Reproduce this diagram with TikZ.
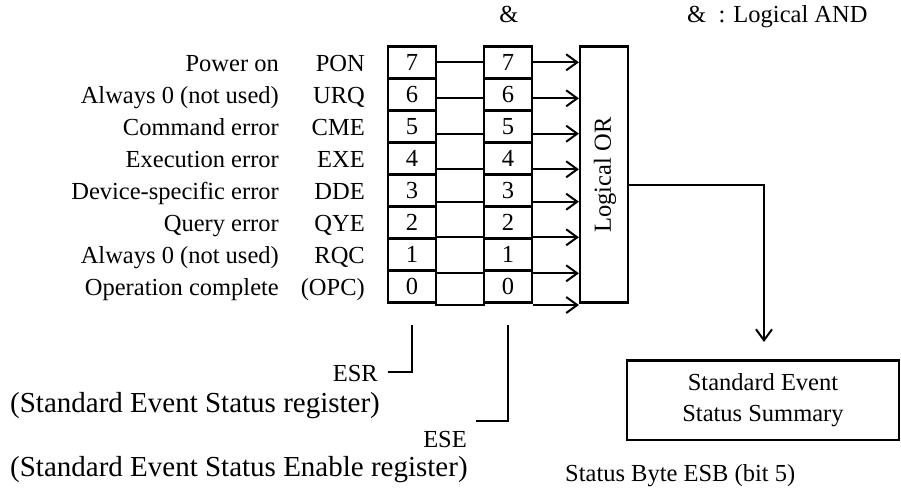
\documentclass[tikz,border=0pt]{standalone}
\usepackage{fontspec}
\setmainfont{Liberation Serif}
\usetikzlibrary{arrows.meta}
\begin{document}
\begin{tikzpicture}[x=1pt,y=-1pt,
  every node/.style={font=\fontsize{24.5}{31}\selectfont, inner sep=0pt},
  bigtxt/.style={font=\fontsize{29}{34}\selectfont},
  cell/.style={draw, line width=2.2pt, minimum width=48pt, minimum height=32pt},
  wire/.style={line width=2pt},
  arr/.style={line width=2pt, -{Straight Barb[length=11pt,width=16pt,line width=2pt]}},
]
\useasboundingbox (0,0) rectangle (901,490);

% title texts
\node[anchor=base] (amp) at (509,22) {\&};
\node[anchor=base west] (legend) at (687,22) {\&\ \ : Logical AND};

% registers and labels
\foreach \b/\d/\m [count=\i from 0] in {7/Power on/PON, 6/Always 0 (not used)/URQ, 5/Command error/CME, 4/Execution error/EXE, 3/Device-specific error/DDE, 2/Query error/QYE, 1/Always 0 (not used)/RQC, 0/Operation complete/{(OPC)}}{
  \node[cell] (r\b) at (412,{62.5+32*\i}) {\b};
  \node[cell] (e\b) at (508,{62.5+32*\i}) {\b};
  \node[anchor=base east] (d\b) at (279,{71+32*\i}) {\d};
  \node[anchor=base east] (m\b) at (365,{71+32*\i}) {\m};
}

% logical OR block
\node[draw, line width=2.2pt, minimum width=48pt, minimum height=256pt] (or) at (604,174.5) {};
\node[rotate=90] (orlbl) at (605,175) {Logical OR};

% middle AND section
\node[draw, line width=2.2pt, minimum width=48pt, minimum height=31.7pt] (mb) at (460,289.2) {};
\foreach \y [count=\k from 0] in {62.3,98.3,133.7,169.3,201.7,237.3,273.3,305}{
  \coordinate (a\k) at (0,\y);
}
\foreach \b/\k in {7/0,6/1,5/2,4/3,3/4,2/5}{
  \draw[wire] (r\b.east |- a\k) -- (e\b.west |- a\k);
}
\foreach \k in {0,...,7}{
  \draw[arr] (e0.east |- a\k) -- (or.west |- a\k);
}

% output to summary
\node[draw, line width=2.2pt, minimum width=272pt, minimum height=79.5pt, align=center] (seb) at (763,400.3) {Standard Event\\Status Summary};
\coordinate (oy) at (0,185);
\coordinate (tip) at (764,342);
\draw[arr] (or.east |- oy) -| (tip);
\node[anchor=base west] (esb) at (565,481) {Status Byte ESB (bit 5)};

% register captions
\node[anchor=base east] (esr) at (378,381) {ESR};
\node[anchor=base west, bigtxt] (esrlong) at (10,412) {(Standard Event Status register)};
\node[anchor=base east] (ese) at (467,447) {ESE};
\node[anchor=base west, bigtxt] (eselong) at (10,476) {(Standard Event Status Enable register)};

\coordinate (p1) at (412,325);
\coordinate (p1e) at (388,371.7);
\draw[wire] (p1) |- (p1e);
\coordinate (p2) at (508,325);
\coordinate (p2e) at (476,420.7);
\draw[wire] (p2) |- (p2e);
\end{tikzpicture}
\end{document}
